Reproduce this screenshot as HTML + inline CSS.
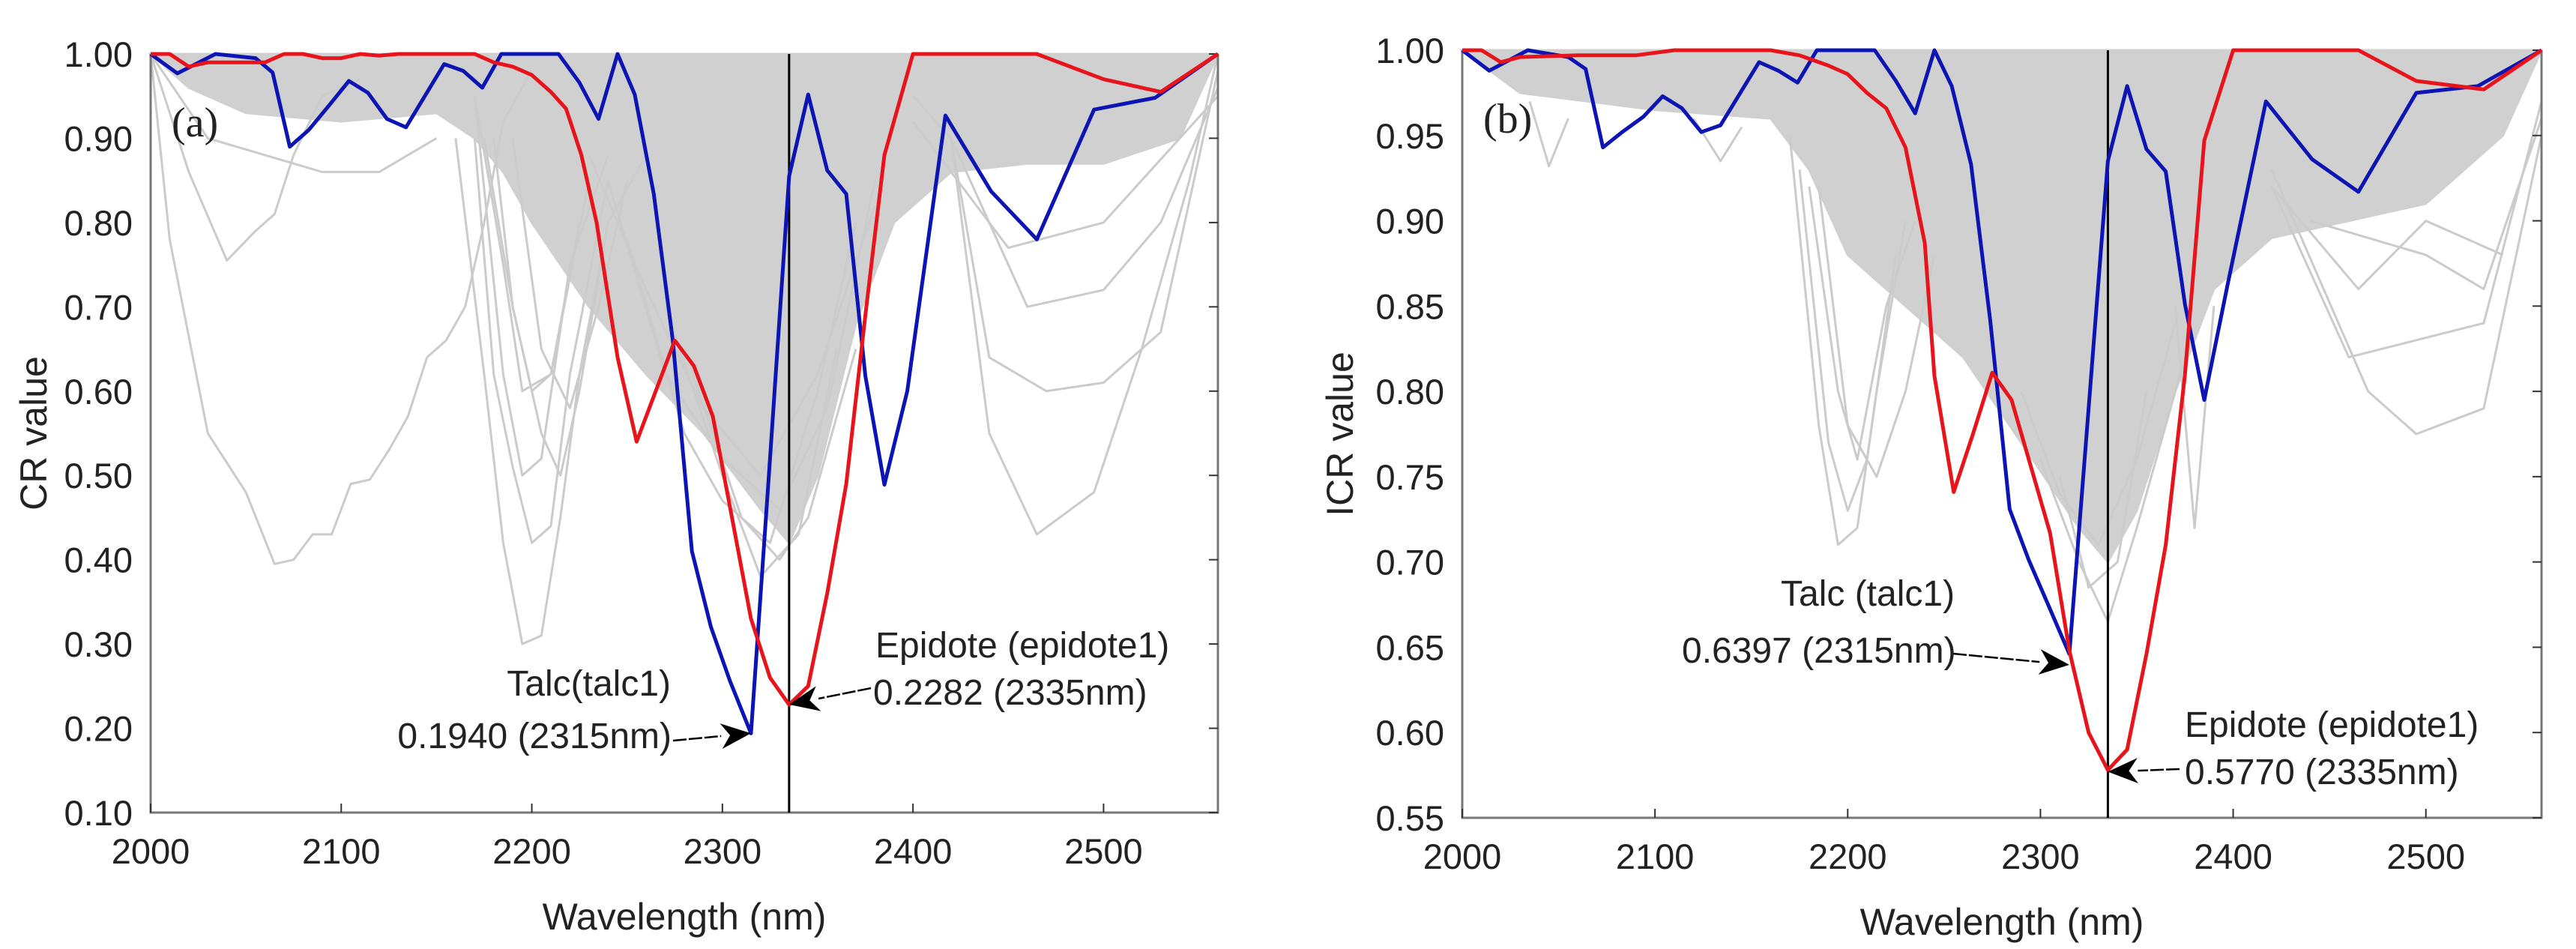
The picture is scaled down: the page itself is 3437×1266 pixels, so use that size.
<!DOCTYPE html>
<html><head><meta charset="utf-8">
<style>
html,body{margin:0;padding:0;background:#fff;}
svg{display:block;}
text{font-family:"Liberation Sans",Arial,sans-serif;fill:#222;}
</style></head>
<body>
<svg id="chart" width="3437" height="1266" viewBox="0 0 3437 1266" xmlns="http://www.w3.org/2000/svg">
<g id="panelA"></g>
<g id="panelB"></g>
</svg>
<script>
const xTicks = [2000, 2100, 2200, 2300, 2400, 2500];
const crTicks = [0.10, 0.20, 0.30, 0.40, 0.50, 0.60, 0.70, 0.80, 0.90, 1.00];
const icrTicks = [0.55, 0.60, 0.65, 0.70, 0.75, 0.80, 0.85, 0.90, 0.95, 1.00];

const crRedWl = [2000,2010,2020,2030,2040,2050,2060,2070,2080,2090,2100,2110,2120,2130,2140,2150,2160,2170,2180,2190,2200,2210,2218,2226,2234,2245,2255,2265,2275,2285,2295,2305,2315,2325,2335,2345,2355,2365,2375,2385,2400,2420,2440,2465,2500,2530,2560];
const crRedVal = [1.0,1.0,0.985,0.99,0.99,0.99,0.99,1.0,1.0,0.995,0.995,1.0,0.998,1.0,1.0,1.0,1.0,1.0,0.99,0.985,0.975,0.955,0.935,0.88,0.80,0.64,0.54,0.60,0.66,0.63,0.57,0.45,0.33,0.26,0.228,0.25,0.36,0.49,0.69,0.88,1.0,1.0,1.0,1.0,0.97,0.955,1.0];

const crBlueWl = [2000,2014,2034,2055,2064,2073,2083,2094,2104,2114,2124,2134,2154,2164,2174,2184,2214,2225,2235,2245,2254,2264,2274,2284,2294,2304,2315,2325,2335,2345,2355,2365,2375,2385,2397,2417,2441,2465,2495,2527,2560];
const crBlueVal = [1.0,0.977,1.0,0.995,0.978,0.89,0.91,0.94,0.968,0.954,0.923,0.913,0.988,0.98,0.96,1.0,1.0,0.966,0.923,1.0,0.952,0.834,0.66,0.41,0.32,0.256,0.194,0.52,0.855,0.952,0.862,0.834,0.618,0.489,0.60,0.927,0.837,0.78,0.934,0.948,1.0];

const crDenseWl = [2000,2020,2050,2100,2150,2170,2185,2200,2230,2260,2290,2320,2335,2350,2370,2390,2420,2460,2500,2540,2560];
const crDenseVal = [1.0,0.96,0.93,0.92,0.93,0.90,0.86,0.80,0.70,0.62,0.55,0.46,0.42,0.50,0.68,0.80,0.86,0.87,0.87,0.90,1.0];

const crGrayCurves = [
 {wl:[2000,2010,2030,2050,2065,2075,2085,2095,2105,2115,2125,2135,2145,2155,2165,2175,2185,2200], val:[1.0,0.78,0.55,0.48,0.395,0.40,0.43,0.43,0.49,0.495,0.53,0.57,0.64,0.66,0.70,0.80,0.92,0.98]},
 {wl:[2000,2020,2040,2055,2065,2075,2090,2110], val:[1.0,0.86,0.755,0.79,0.81,0.88,0.95,0.97]},
 {wl:[2000,2030,2060,2090,2120,2150], val:[1.0,0.90,0.88,0.86,0.86,0.90]},
 {wl:[2160,2175,2185,2195,2205,2215,2225,2240,2260], val:[0.90,0.62,0.42,0.30,0.31,0.45,0.62,0.80,0.88]},
 {wl:[2170,2180,2190,2200,2210,2220,2240], val:[0.90,0.62,0.51,0.42,0.44,0.62,0.85]},
 {wl:[2170,2185,2195,2205,2220,2240], val:[0.95,0.62,0.50,0.52,0.75,0.88]},
 {wl:[2180,2190,2200,2210,2225], val:[0.90,0.70,0.60,0.62,0.80]},
 {wl:[2175,2190,2205,2215,2225,2240], val:[0.90,0.70,0.55,0.50,0.60,0.80]},
 {wl:[2190,2205,2220,2235,2250], val:[0.90,0.65,0.58,0.70,0.85]},
 {wl:[2170,2185,2195,2210,2230], val:[0.95,0.75,0.60,0.62,0.85]},
 {wl:[2400,2420,2440,2465,2495,2520,2545,2560], val:[0.95,0.90,0.55,0.43,0.48,0.65,0.85,1.0]},
 {wl:[2400,2420,2440,2470,2500,2530,2560], val:[0.95,0.90,0.64,0.60,0.61,0.67,0.98]},
 {wl:[2400,2450,2500,2560], val:[0.92,0.77,0.80,0.95]},
 {wl:[2420,2460,2500,2530,2560], val:[0.90,0.70,0.72,0.80,0.96]},
 {wl:[2280,2310,2330,2345,2370], val:[0.65,0.45,0.40,0.45,0.65]},
 {wl:[2270,2300,2320,2340,2360], val:[0.70,0.50,0.38,0.43,0.65]},
 {wl:[2250,2280,2300,2325,2350,2370], val:[0.78,0.55,0.47,0.42,0.60,0.80]},
 {wl:[2240,2270,2300,2330,2355,2380], val:[0.85,0.62,0.52,0.46,0.58,0.85]},
 {wl:[2230,2260,2290,2320,2350,2380], val:[0.88,0.72,0.58,0.50,0.62,0.82]}
];

const icrRedWl = [2000,2010,2020,2030,2060,2090,2110,2160,2175,2190,2200,2210,2220,2230,2240,2245,2255,2265,2275,2285,2295,2305,2315,2325,2335,2345,2355,2365,2375,2385,2400,2465,2495,2530,2560];
const icrRedVal = [1.0,1.0,0.993,0.996,0.997,0.997,1.0,1.0,0.997,0.991,0.986,0.975,0.966,0.943,0.887,0.809,0.741,0.775,0.811,0.795,0.756,0.717,0.648,0.60,0.578,0.59,0.646,0.71,0.81,0.947,1.0,1.0,0.982,0.977,1.0];

const icrBlueWl = [2000,2014,2034,2055,2064,2073,2083,2094,2104,2114,2124,2134,2154,2164,2174,2184,2214,2225,2235,2245,2254,2264,2274,2284,2294,2304,2315,2325,2335,2345,2355,2365,2375,2385,2397,2417,2441,2465,2495,2527,2560];
const icrBlueVal = [1.0,0.988,1.0,0.996,0.989,0.943,0.952,0.961,0.973,0.966,0.952,0.956,0.993,0.988,0.981,1.0,1.0,0.982,0.963,1.0,0.979,0.933,0.841,0.731,0.701,0.675,0.646,0.79,0.935,0.979,0.942,0.929,0.851,0.795,0.862,0.97,0.936,0.917,0.975,0.979,1.0];

const icrDenseWl = [2000,2030,2100,2160,2180,2200,2230,2260,2290,2320,2335,2350,2370,2390,2420,2460,2500,2540,2560];
const icrDenseVal = [1.0,0.975,0.965,0.96,0.93,0.88,0.85,0.82,0.77,0.72,0.70,0.73,0.80,0.86,0.89,0.90,0.91,0.95,1.0];

const icrGrayCurves = [
 {wl:[2170,2185,2195,2205,2215,2230], val:[0.95,0.78,0.71,0.72,0.80,0.90]},
 {wl:[2175,2190,2200,2210,2225], val:[0.93,0.77,0.73,0.76,0.88]},
 {wl:[2180,2195,2205,2220,2235], val:[0.92,0.80,0.76,0.85,0.90]},
 {wl:[2185,2200,2215,2230,2245], val:[0.92,0.78,0.75,0.80,0.88]},
 {wl:[2035,2045,2055], val:[0.97,0.932,0.96]},
 {wl:[2120,2134,2145], val:[0.96,0.935,0.955]},
 {wl:[2300,2320,2335,2350,2375], val:[0.76,0.70,0.665,0.72,0.82]},
 {wl:[2310,2325,2340,2355], val:[0.75,0.685,0.70,0.80]},
 {wl:[2290,2310,2330,2350,2370], val:[0.80,0.74,0.71,0.76,0.84]},
 {wl:[2370,2380,2390], val:[0.85,0.72,0.85]},
 {wl:[2420,2460,2495,2530,2560], val:[0.92,0.82,0.83,0.84,0.97]},
 {wl:[2420,2470,2495,2530,2560], val:[0.93,0.80,0.775,0.79,0.95]},
 {wl:[2440,2500,2530,2560], val:[0.90,0.88,0.86,0.96]},
 {wl:[2420,2465,2500,2540], val:[0.92,0.86,0.90,0.88]}
];

const NS = 'http://www.w3.org/2000/svg';
function mk(parent, tag, attrs, txt){
  const e = document.createElementNS(NS, tag);
  for (const k in attrs) e.setAttribute(k, attrs[k]);
  if (txt !== undefined) e.textContent = txt;
  parent.appendChild(e);
  return e;
}

function drawPanel(g, cfg){
  const xs = wl => cfg.x0 + (wl - 2000) / 560 * (cfg.x1 - cfg.x0);
  const ys = v => cfg.yb + (v - cfg.vmin) / (1 - cfg.vmin) * (cfg.yt - cfg.yb);
  const pts = (w, v) => w.map((d, i) => xs(d).toFixed(1) + ',' + ys(v[i]).toFixed(1)).join(' ');

  const dp = pts(cfg.denseWl, cfg.denseVal) + ' ' + xs(2560) + ',' + ys(1) + ' ' + xs(2000) + ',' + ys(1);
  const dense = mk(g, 'polygon', {points: dp, fill: '#d0d0d0', stroke: '#d0d0d0', 'stroke-width': 3});
  
  

  cfg.gray.forEach((c) => {
    const pl = mk(g, 'polyline', {points: pts(c.wl, c.val), fill: 'none', stroke: '#cbcbcb', 'stroke-width': 3, 'stroke-linejoin': 'round'});
    
    
  });

  const ax = mk(g, 'path', {d: `M${cfg.x0},${cfg.yt} V${cfg.yb} H${cfg.x1} V${cfg.yt}`, fill: 'none', stroke: '#777', 'stroke-width': 3});
  
  

  xTicks.forEach(t => {
    const x = xs(t);
    const tk = mk(g, 'line', {x1: x, x2: x, y1: cfg.yb, y2: cfg.yb - 12, stroke: '#333', 'stroke-width': 2});
    
    
    const tl = mk(g, 'text', {x: x, y: cfg.yb + 68, 'font-size': 47, 'text-anchor': 'middle'}, String(t));
    
    
  });
  cfg.yTicks.forEach(t => {
    const y = ys(t);
    const tk = mk(g, 'line', {x1: cfg.x1, x2: cfg.x1 - 12, y1: y, y2: y, stroke: '#333', 'stroke-width': 2});
    
    
    const tl = mk(g, 'text', {x: cfg.x0 - 24, y: y + 17, 'font-size': 47, 'text-anchor': 'end'}, t.toFixed(2));
    
    
  });

  const vl = mk(g, 'line', {x1: xs(2335), x2: xs(2335), y1: cfg.yt, y2: cfg.yb, stroke: '#000', 'stroke-width': 3});
  
  

  const bl = mk(g, 'polyline', {points: pts(cfg.blueWl, cfg.blueVal), fill: 'none', stroke: '#0c14b4', 'stroke-width': 5, 'stroke-linejoin': 'round'});
  
  
  const rd = mk(g, 'polyline', {points: pts(cfg.redWl, cfg.redVal), fill: 'none', stroke: '#e8141c', 'stroke-width': 5, 'stroke-linejoin': 'round'});
  
  

  const pl = mk(g, 'text', {x: cfg.x0 + 28, y: cfg.yt + 110, 'font-size': 56, style: 'font-family:"Liberation Serif",serif'}, cfg.letter);
  
  

  const xt = mk(g, 'text', {x: (cfg.x0 + cfg.x1) / 2, y: cfg.yb + 156, 'font-size': 50, 'text-anchor': 'middle'}, 'Wavelength (nm)');
  
  
  const yt = mk(g, 'text', {x: 0, y: 0, 'font-size': 50, 'text-anchor': 'middle', transform: `translate(${cfg.ytx},${(cfg.yt + cfg.yb) / 2}) rotate(-90)`}, cfg.ytitle);
  
  

  cfg.notes.forEach(n => {
    const t1 = mk(g, 'text', {x: n.tx, y: n.ty1, 'font-size': 48, 'text-anchor': n.anchor}, n.l1);
    
    
    const t2 = mk(g, 'text', {x: n.tx2, y: n.ty2, 'font-size': 48, 'text-anchor': n.anchor}, n.l2);
    
    
    const tipx = xs(n.wl), tipy = ys(n.v);
    const dx = tipx - n.ax, dy = tipy - n.ay, L = Math.hypot(dx, dy), ux = dx / L, uy = dy / L;
    const hx = tipx - ux * 40, hy = tipy - uy * 40;
    const al = mk(g, 'line', {x1: n.ax, y1: n.ay, x2: hx, y2: hy, stroke: '#000', 'stroke-width': 2.5, 'stroke-dasharray': '18 3'});
    
    
    const ah = mk(g, 'polygon', {points: `${tipx},${tipy} ${hx - uy * 17},${hy + ux * 17} ${tipx - ux * 28},${tipy - uy * 28} ${hx + uy * 17},${hy - ux * 17}`, fill: '#000'});
    
    
  });
}

drawPanel(document.getElementById('panelA'), {
  x0: 201, x1: 1625, yt: 72, yb: 1084, vmin: 0.10, yTicks: crTicks, letter: '(a)',
  ytitle: 'CR value', ytx: 62,
  redWl: crRedWl, redVal: crRedVal, blueWl: crBlueWl, blueVal: crBlueVal,
  denseWl: crDenseWl, denseVal: crDenseVal, gray: crGrayCurves,
  notes: [
    {l1: 'Talc(talc1)', l2: '0.1940 (2315nm)', tx: 895, ty1: 928, tx2: 896, ty2: 998, anchor: 'end', wl: 2315, v: 0.194, ax: 898, ay: 988},
    {l1: 'Epidote (epidote1)', l2: '0.2282 (2335nm)', tx: 1168, ty1: 877, tx2: 1165, ty2: 940, anchor: 'start', wl: 2335, v: 0.2282, ax: 1162, ay: 918}
  ]
});

drawPanel(document.getElementById('panelB'), {
  x0: 1951, x1: 3391, yt: 67, yb: 1091, vmin: 0.55, yTicks: icrTicks, letter: '(b)',
  ytitle: 'ICR value', ytx: 1805,
  redWl: icrRedWl, redVal: icrRedVal, blueWl: icrBlueWl, blueVal: icrBlueVal,
  denseWl: icrDenseWl, denseVal: icrDenseVal, gray: icrGrayCurves,
  notes: [
    {l1: 'Talc (talc1)', l2: '0.6397 (2315nm)', tx: 2376, ty1: 808, tx2: 2244, ty2: 884, anchor: 'start', wl: 2315, v: 0.6397, ax: 2606, ay: 872},
    {l1: 'Epidote (epidote1)', l2: '0.5770 (2335nm)', tx: 2915, ty1: 983, tx2: 2915, ty2: 1046, anchor: 'start', wl: 2335, v: 0.577, ax: 2908, ay: 1026}
  ]
});
</script>
</body></html>
